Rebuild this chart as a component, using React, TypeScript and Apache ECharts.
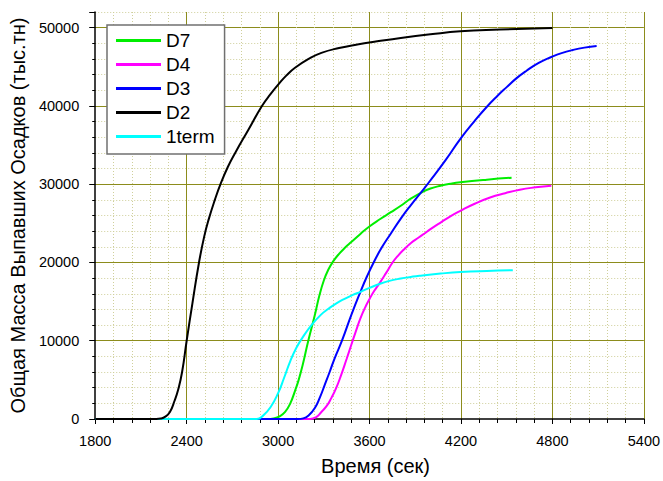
import React, { useEffect, useRef } from "react";
import * as echarts from "echarts";

// time (sec), total mass (thousand t)
const seriesNames = ["D7", "D4", "D3", "D2", "1term"];
const d7: [number, number][] = [
  [1800, 0], [2930, 0], [2970, 80], [3010, 350], [3046, 900], [3080, 2000], [3111, 3600],
  [3135, 5000], [3160, 6800], [3198, 10000], [3241, 13300], [3270, 15700], [3300, 17700],
  [3330, 19100], [3360, 20100], [3400, 21100], [3440, 21900], [3480, 22600], [3540, 23650],
  [3599, 24600], [3670, 25550], [3740, 26420], [3805, 27250], [3870, 28150], [3946, 29000],
  [4000, 29450], [4066, 29800], [4130, 30050], [4196, 30240], [4370, 30580], [4532, 30830],
];
const d4: [number, number][] = [
  [1800, 0], [3210, 0], [3250, 250], [3284, 900], [3320, 1700], [3349, 2670], [3380, 3900],
  [3414, 5640], [3450, 7700], [3480, 9450], [3510, 11200], [3540, 12850], [3570, 14200],
  [3599, 15300], [3630, 16350], [3664, 17300], [3710, 18700], [3751, 20000], [3784, 20800],
  [3820, 21550], [3870, 22450], [3920, 23150], [3960, 23700], [4000, 24250], [4066, 25100],
  [4130, 25900], [4196, 26600], [4290, 27500], [4391, 28300], [4490, 28850], [4586, 29300],
  [4690, 29600], [4793, 29810],
];
const d3: [number, number][] = [
  [1800, 0], [3130, 0], [3165, 80], [3200, 450], [3241, 1400], [3275, 2800], [3306, 4360],
  [3340, 6100], [3371, 7760], [3419, 10000], [3480, 13270], [3540, 16240], [3585, 18300],
  [3627, 20000], [3680, 21900], [3740, 23700], [3805, 25600], [3870, 27300], [3946, 29150],
  [3990, 30250], [4100, 33100], [4196, 35800], [4290, 38100], [4370, 39900], [4440, 41300],
  [4500, 42400], [4565, 43550], [4630, 44500], [4710, 45500], [4793, 46250], [4860, 46750],
  [4934, 47150], [5010, 47450], [5090, 47650],
];
const d2: [number, number][] = [
  [1800, 0], [2200, 0], [2230, 60], [2260, 300], [2290, 900], [2320, 2300], [2345, 3800],
  [2370, 6000], [2400, 10000], [2438, 14800], [2481, 20000], [2515, 23300], [2546, 25600],
  [2585, 28000], [2622, 30000], [2670, 32200], [2720, 34060], [2807, 37020], [2894, 40000],
  [2950, 41500], [3002, 42750], [3055, 43900], [3111, 44870], [3200, 46000], [3284, 46780],
  [3400, 47400], [3520, 47850], [3650, 48250], [3805, 48690], [4000, 49150], [4196, 49530],
  [4456, 49750], [4800, 49960],
];
const term1: [number, number][] = [
  [1800, 0], [2860, 0], [2900, 400], [2950, 1500], [3000, 3300], [3040, 5300], [3080, 7400],
  [3120, 9100], [3160, 10400], [3219, 12000], [3280, 13300], [3328, 14050], [3380, 14750],
  [3436, 15350], [3490, 15850], [3540, 16250], [3600, 16750], [3664, 17250], [3730, 17650],
  [3805, 17950], [3870, 18150], [3927, 18300], [4066, 18580], [4196, 18780], [4370, 18920],
  [4540, 19000],
];

const colors: Record<string, string> = {
  D7: "#00ee00",
  D4: "#ff00ff",
  D3: "#0000ff",
  D2: "#000000",
  "1term": "#00ffff",
};

const FONT = "'Liberation Sans', Arial, sans-serif";
const MAJOR = "#8c8c1c";
const MINOR = "#cfcf9a";

export default function App() {
  const ref = useRef<HTMLDivElement>(null);
  useEffect(() => {
    if (!ref.current) return;
    const chart = echarts.init(ref.current, undefined, { renderer: "svg" });
    const mk = (name: string, data: [number, number][]) => ({
      name,
      type: "line",
      data,
      smooth: 0.5,
      symbol: "none",
      lineStyle: { width: 2, color: colors[name] },
      itemStyle: { color: colors[name] },
    });
    chart.setOption({
      animation: false,
      backgroundColor: "#fff",
      textStyle: { fontFamily: FONT },
      grid: { left: 92, right: 19, top: 12, bottom: 60, containLabel: false },
      legend: {
        data: seriesNames,
        orient: "vertical",
        left: 107,
        top: 25,
        icon: "rect",
        itemWidth: 45,
        itemHeight: 3,
        itemGap: 5,
        padding: [6, 10, 8, 9],
        backgroundColor: "#fff",
        borderColor: "#707070",
        borderWidth: 1.5,
        borderRadius: 0,
        textStyle: { fontSize: 19, color: "#000", fontFamily: FONT },
      },
      xAxis: {
        type: "value",
        min: 1800,
        max: 5400,
        interval: 600,
        name: "Время (сек)",
        nameLocation: "middle",
        nameGap: 37,
        nameTextStyle: { fontSize: 20, color: "#000", fontFamily: FONT, padding: [0, 0, 0, 12] },
        axisLine: { show: true, onZero: false, lineStyle: { color: "#000", width: 1.5 } },
        axisTick: { show: true, length: 5, lineStyle: { color: "#000", width: 1 } },
        minorTick: { show: true, splitNumber: 5, length: 4, lineStyle: { color: "#000", width: 1 } },
        axisLabel: {
          fontSize: 14.5,
          color: "#000",
          margin: 14,
          fontFamily: FONT,
          formatter: (v: number) => String(v),
        },
        splitLine: { show: true, showMinLine: false, showMaxLine: true, lineStyle: { color: MAJOR, width: 1 } },
        minorSplitLine: { show: true, lineStyle: { color: MINOR, width: 1, type: [1, 2] } },
      },
      yAxis: [
        {
          type: "value",
          min: 0,
          max: 52000,
          interval: 2000,
          position: "left",
          name: "Общая Масса Выпавших Осадков (тыс.тн)",
          nameLocation: "middle",
          nameGap: 64,
          nameTextStyle: { fontSize: 20, color: "#000", fontFamily: FONT },
          axisLine: { show: true, onZero: false, lineStyle: { color: "#000", width: 1.5 } },
          axisTick: { show: true, length: 3, lineStyle: { color: "#000", width: 1 } },
          axisLabel: {
            fontSize: 14.5,
            color: "#000",
            margin: 16,
            fontFamily: FONT,
            formatter: (v: number) => (v % 10000 === 0 ? String(v) : ""),
          },
          splitLine: { show: true, showMinLine: false, showMaxLine: true, lineStyle: { color: MINOR, width: 1, type: [1, 2] } },
        },
        {
          type: "value",
          min: 0,
          max: 52000,
          interval: 10000,
          position: "left",
          axisLine: { show: false },
          axisTick: { show: true, length: 6, lineStyle: { color: "#000", width: 1 } },
          axisLabel: { show: false },
          splitLine: { show: true, showMinLine: false, showMaxLine: false, lineStyle: { color: MAJOR, width: 1 } },
        },
      ],
      series: [
        mk("D4", d4),
        mk("D7", d7),
        mk("D3", d3),
        mk("1term", term1),
        mk("D2", d2),
      ],
    });
    return () => chart.dispose();
  }, []);
  return (
    <div
      ref={ref}
      style={{ position: "fixed", left: 0, top: 0, width: 663, height: 481, background: "#fff" }}
    />
  );
}
